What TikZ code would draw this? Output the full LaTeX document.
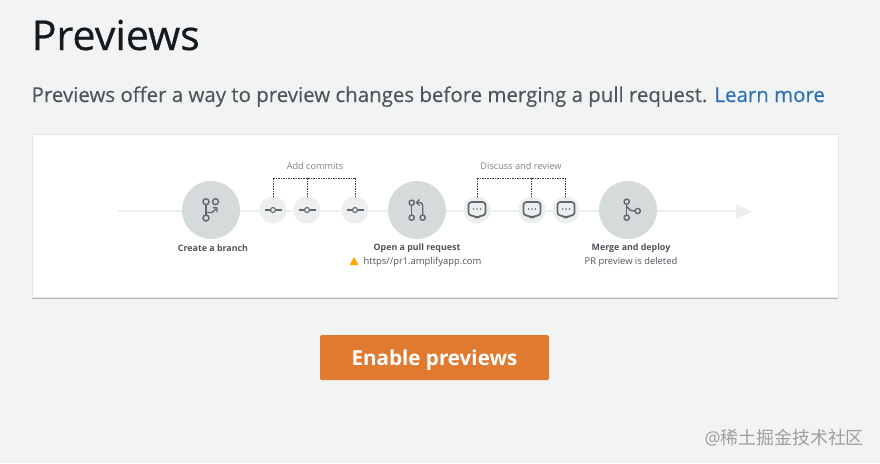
\documentclass[tikz,border=0pt]{standalone}
\usepackage{fontspec}
\setmainfont{Open Sans}
\newfontfamily\cjk{Noto Sans CJK SC}
\usetikzlibrary{shadows}
\definecolor{pagebg}{HTML}{F2F3F3}
\definecolor{inktext}{HTML}{16191F}
\definecolor{subtext}{HTML}{4E555D}
\definecolor{linkblue}{HTML}{2A72B5}
\definecolor{btnorange}{HTML}{DF7A30}
\definecolor{bigfill}{HTML}{D5DBDB}
\definecolor{smallfill}{HTML}{EDEFEF}
\definecolor{iconink}{HTML}{5F6870}
\tikzset{
  bigstep/.style={circle,fill=bigfill,minimum size=58pt,inner sep=0pt},
  smallstep/.style={circle,fill=smallfill,minimum size=27pt,inner sep=0pt},
  tick/.style={dash pattern=on 1.5pt off 1pt,line width=.7pt,black!75},
  iconline/.style={draw=iconink,line width=1.4pt},
  steplabel/.style={font=\fontsize{8.85}{10}\selectfont\bfseries,text=subtext,inner sep=0pt},
  stepnote/.style={font=\fontsize{9.4}{11}\selectfont,text=subtext,inner sep=0pt},
  grouplabel/.style={font=\fontsize{9.2}{11}\selectfont,text=black!50,inner sep=0pt}
}
\begin{document}
\begin{tikzpicture}[x=1pt,y=-1pt]
  \useasboundingbox[fill=pagebg] (0,0) rectangle (880,463);

  \node[anchor=base west,inner sep=0pt,font=\fontsize{41.2}{48}\selectfont\addfontfeature{FakeBold=0.5},text=inktext] (title) at (31.5,50) {Previews};
  \node[anchor=base west,inner sep=0pt,font=\fontsize{20.45}{24}\selectfont\addfontfeature{FakeBold=0.2},text=subtext] (intro) at (31.5,102) {Previews offer a way to preview changes before merging a pull request. \textcolor{linkblue}{Learn more}};

  \node[anchor=north west,fill=white,draw=black!10,line width=.5pt,minimum width=806pt,minimum height=163pt,inner sep=0pt,drop shadow={shadow xshift=0pt,shadow yshift=-1.5pt,opacity=.5}] (card) at (32,134) {};

  % timeline
  \coordinate (start) at (118,211);
  \coordinate (stop) at (737,211);
  \draw[line width=2.4pt,smallfill] (start) -- (stop);
  \fill[smallfill] (736,204) -- (752,211.5) -- (736,219) -- cycle;

  \node[bigstep] (branch) at (211,210) {};
  \node[bigstep] (pull) at (417,210) {};
  \node[bigstep] (merge) at (628,210) {};

  \node[smallstep] (c1) at (273,210) {};
  \node[smallstep] (c2) at (307,210) {};
  \node[smallstep] (c3) at (355,210) {};
  \node[smallstep] (d1) at (477,210) {};
  \node[smallstep] (d2) at (532,210) {};
  \node[smallstep] (d3) at (566,210) {};

  % brackets
  \coordinate (ctop1) at (273,178);
  \coordinate (ctop2) at (307,178);
  \coordinate (ctop3) at (355,178);
  \coordinate (dtop1) at (477,178);
  \coordinate (dtop2) at (531,178);
  \coordinate (dtop3) at (565,178);
  \draw[tick] (ctop1) -- (ctop3);
  \draw[tick] (dtop1) -- (dtop3);
  \foreach \i in {1,2,3}
  {
    \draw[tick] (ctop\i) -- (c\i.north);
    \draw[tick] (dtop\i) -- ([yshift=-1pt]dtop\i |- d\i.north);
  };

  % commit icons
  \foreach \i in {1,2,3}
  {
    \draw[iconline,line width=1.2pt] ([xshift=-8.5pt]c\i.center) -- ([xshift=-2.5pt]c\i.center);
    \draw[iconline,line width=1.2pt] ([xshift=2.5pt]c\i.center) -- ([xshift=8.5pt]c\i.center);
    \draw[iconline,line width=1.1pt] (c\i.center) circle(2.5pt);
  };

  % comment icons
  \foreach \i in {1,2,3}
  {
    \begin{scope}[shift={(d\i.center)}]
      \draw[iconline,line width=1.7pt,fill=smallfill,rounded corners=3pt,line join=round] (-8.5,-8) -- (8.5,-8) -- (8.5,5.5) -- (3,5.5) -- (0,8.5) -- (-3,5.5) -- (-8.5,5.5) -- cycle;
      \foreach \k in {-3.5,0,3.5}
      {
        \fill[iconink] (\k,-1) circle(.8pt);
      };
    \end{scope}
  };

  % branch icon
  \begin{scope}[shift={(branch.center)}]
    \draw[iconline] (-5,-8.3) circle(3pt);
    \draw[iconline] (4.5,-8.3) circle(3pt);
    \draw[iconline] (-5,8) circle(3pt);
    \draw[iconline] (-5,-5.3) -- (-5,5);
    \draw[iconline] (-5,2.5) -- (1,2.5) -- (5,-1);
    \draw[iconline] (2,-2.5) -- (6,-2) -- (6,2);
  \end{scope}

  % pull icon
  \begin{scope}[shift={(pull.center)}]
    \draw[iconline] (-5.3,-7.3) circle(2.6pt);
    \draw[iconline] (-5.3,7.7) circle(2.6pt);
    \draw[iconline] (5.7,7.7) circle(2.6pt);
    \draw[iconline] (-5.3,-4.7) -- (-5.3,5.1);
    \draw[iconline,rounded corners=3pt] (5.7,5.1) -- (5.7,-7.5) -- (-0.5,-7.5);
    \draw[iconline] (2.5,-10.5) -- (-0.5,-7.5) -- (2.5,-4.5);
  \end{scope}

  % merge icon
  \begin{scope}[shift={(merge.center)}]
    \draw[iconline] (-1.3,-8.3) circle(2.6pt);
    \draw[iconline] (-1.3,7.7) circle(2.6pt);
    \draw[iconline] (9.7,1) circle(2.6pt);
    \draw[iconline] (-1.3,-5.7) -- (-1.3,5.1);
    \draw[iconline] (-1.3,-3.5) .. controls (0,-0.5) and (3,1) .. (7.1,1);
  \end{scope}

  % labels
  \node[grouplabel] (addlabel) at (315,166) {Add commits};
  \node[grouplabel] (discusslabel) at (521,166) {Discuss and review};
  \node[steplabel] (branchlabel) at (213,248.5) {Create a branch};
  \node[steplabel] (pulllabel) at (417,248.5) {Open a pull request};
  \node[steplabel] (mergelabel) at (631,248.5) {Merge and deploy};
  \node[stepnote] (urlnote) at (422.5,262) {https//pr1.amplifyapp.com};
  \node[stepnote] (mergenote) at (631,262) {PR preview is deleted};
  \fill[orange!70!yellow,rounded corners=.5pt] (349.5,265) -- (354,257) -- (358.5,265) -- cycle;

  \node[fill=btnorange,rounded corners=1.5pt,minimum width=229pt,minimum height=45pt,inner sep=0pt,text=white,font=\fontsize{20.6}{26}\selectfont\bfseries,text depth=0pt,yshift=0pt] (enable) at (434.5,357.5) {\raisebox{-.8pt}{Enable previews}};

  \node[anchor=east,inner sep=0pt,text=black!38,font=\fontsize{17.9}{20}\selectfont] (mark) at (864,438) {@{\cjk 稀土掘金技术社区}};
\end{tikzpicture}
\end{document}
